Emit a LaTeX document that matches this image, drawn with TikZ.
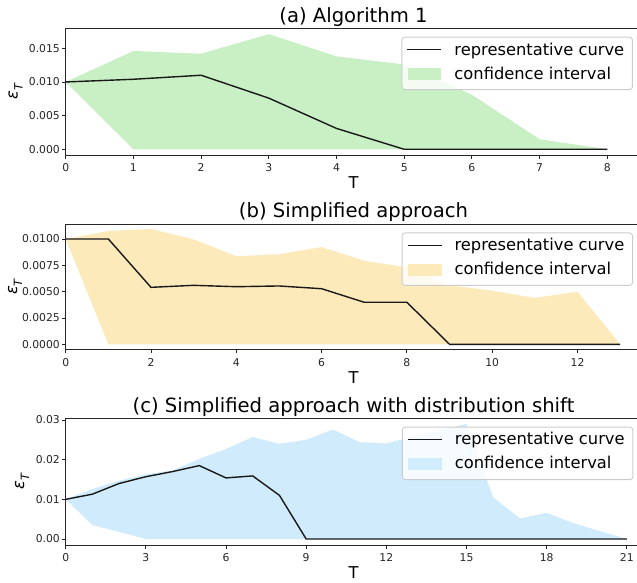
\documentclass[tikz,border=0pt]{standalone}
\usepackage{fontspec}
\setmainfont{DejaVu Sans}

\definecolor{bandA}{RGB}{201,239,196}
\definecolor{bandB}{RGB}{253,234,187}
\definecolor{bandC}{RGB}{207,235,252}

\tikzset{
  spine/.style={line width=1pt, black!85},
  tickmark/.style={line width=0.9pt, black!85},
  ticklab/.style={font=\fontsize{10.8}{12}\selectfont, text=black!85, inner sep=0pt},
  curve/.style={line width=1.4pt, black!90},
  ptitle/.style={font=\fontsize{19.6}{22}\selectfont, inner sep=0pt},
  axlab/.style={font=\fontsize{16.3}{18}\selectfont, inner sep=0pt},
  legbox/.style={draw=black!20, line width=0.9pt, fill=white, fill opacity=0.8,
    rounded corners=3pt, minimum width=230.5pt, minimum height=52.5pt, inner sep=0pt},
  legtext/.style={font=\fontsize{16.3}{18}\selectfont, inner sep=0pt, anchor=base west},
}

\newcommand{\epsT}{{\itshape ε}\raisebox{-0.3em}{\fontsize{11.4}{12}\selectfont\itshape T}}

\begin{document}
\begin{tikzpicture}
\useasboundingbox (0,0) rectangle (637pt,582pt);

% (a) Algorithm 1
\begin{scope}[shift={(65.7pt,432.7pt)}, x=67.7pt, y=6.733pt]
\coordinate (a-sw) at (0,-0.847);
\coordinate (a-ne) at (8.44,17.97);
\coordinate (a-top) at (4.251,17.97);
\coordinate (a-bot) at (4.251,-0.847);
\coordinate (a-mid) at (0,8.56);
\fill[bandA] plot coordinates {(0,10) (1,14.6) (2,14.2) (3,17.1) (4,13.8) (5,12.6) (6,8.1) (7,1.5) (8,0)} -- (1,0) -- cycle;
\draw[curve] plot coordinates {(0,10) (1,10.4) (2,11.0) (3,7.6) (4,3.1) (5,0) (8,0)};
\draw[spine] (a-ne) -| (a-sw) -- (a-sw -| a-ne);
\foreach \t in {0,...,8} {
  \draw[tickmark] (\t,-0.847) -- ++(0,-3.5pt);
  \node[ticklab, anchor=north] at ([yshift=-8.3pt]\t,-0.847) {\t};
}
\foreach \v/\lab in {0/0.000,5/0.005,10/0.010,15/0.015} {
  \draw[tickmark] (0,\v) -- ++(-3.5pt,0);
  \node[ticklab, anchor=east] at ([xshift=-5.7pt]0,\v) {\lab};
}
\end{scope}
\node[ptitle, anchor=base] (a-title) at ([yshift=6.2pt]a-top) {(a) Algorithm 1};
\node[axlab, anchor=base] (a-xlab) at ([yshift=-33.3pt]a-bot) {T};
\node[axlab, rotate=90] (a-ylab) at ([xshift=-50.2pt]a-mid) {\epsT};
\node[legbox, anchor=north east] (a-leg) at ([xshift=-4.2pt,yshift=-8.4pt]a-ne) {};
\draw[curve] ([xshift=6pt,yshift=-13pt]a-leg.north west) -- ++(34pt,0);
\node[legtext] (a-l1) at ([xshift=52.8pt,yshift=-18.3pt]a-leg.north west) {representative curve};
\fill[bandA] ([xshift=6.3pt,yshift=-31.3pt]a-leg.north west) rectangle ++(33.7pt,-12pt);
\node[legtext] (a-l2) at ([xshift=52.8pt,yshift=-42.3pt]a-leg.north west) {confidence interval};

% (b) Simplified approach
\begin{scope}[shift={(65.7pt,237.7pt)}, x=42.65pt, y=10.53pt]
\coordinate (b-sw) at (0,-0.541);
\coordinate (b-ne) at (13.4,11.42);
\coordinate (b-top) at (6.748,11.42);
\coordinate (b-bot) at (6.748,-0.541);
\coordinate (b-mid) at (0,5.44);
\fill[bandB] plot coordinates {(0,10) (1,10.76) (2,10.95) (3,9.97) (4,8.36) (5,8.55) (6,9.24) (7,7.94) (8,7.3) (9,5.6) (10,5.1) (11,4.4) (12,5.0) (13,0)} -- (1,0) -- cycle;
\draw[curve] plot coordinates {(0,10) (1,10) (2,5.41) (3,5.6) (4,5.47) (5,5.54) (6,5.28) (7,3.99) (8,3.99) (9,0) (13,0)};
\draw[spine] (b-ne) -| (b-sw) -- (b-sw -| b-ne);
\foreach \t in {0,2,...,12} {
  \draw[tickmark] (\t,-0.541) -- ++(0,-3.5pt);
  \node[ticklab, anchor=north] at ([yshift=-8.3pt]\t,-0.541) {\t};
}
\foreach \v/\lab in {0/0.0000,2.5/0.0025,5/0.0050,7.5/0.0075,10/0.0100} {
  \draw[tickmark] (0,\v) -- ++(-3.5pt,0);
  \node[ticklab, anchor=east] at ([xshift=-5.7pt]0,\v) {\lab};
}
\end{scope}
\node[ptitle, anchor=base] (b-title) at ([yshift=6.2pt]b-top) {(b) Simplified approach};
\node[axlab, anchor=base] (b-xlab) at ([yshift=-33.3pt]b-bot) {T};
\node[axlab, rotate=90] (b-ylab) at ([xshift=-50.7pt]b-mid) {\epsT};
\node[legbox, anchor=north east] (b-leg) at ([xshift=-4.2pt,yshift=-8.4pt]b-ne) {};
\draw[curve] ([xshift=6pt,yshift=-13pt]b-leg.north west) -- ++(34pt,0);
\node[legtext] (b-l1) at ([xshift=52.8pt,yshift=-18.3pt]b-leg.north west) {representative curve};
\fill[bandB] ([xshift=6.3pt,yshift=-31.3pt]b-leg.north west) rectangle ++(33.7pt,-12pt);
\node[legtext] (b-l2) at ([xshift=52.8pt,yshift=-42.3pt]b-leg.north west) {confidence interval};

% (c) with distribution shift
\begin{scope}[shift={(65.7pt,43pt)}, x=26.72pt, y=3.967pt]
\coordinate (c-sw) at (0,-1.512);
\coordinate (c-ne) at (21.4,30.43);
\coordinate (c-top) at (10.771,30.43);
\coordinate (c-bot) at (10.771,-1.512);
\coordinate (c-mid) at (0,14.46);
\fill[bandC] plot coordinates {(0,10) (1,12.6) (2,14.7) (3,16.3) (4,17.3) (5,20.2) (6,22.7) (7,25.7) (8,24.0) (9,25.0) (10,27.6) (11,24.4) (12,24.1) (13,25.8) (14,27.4) (15,29.0) (16,10.5) (17,5.2) (18,6.6) (19,4.0) (20,2.0) (21,0)} -- (3,0) -- (2,1.8) -- (1,3.5) -- cycle;
\draw[curve] plot coordinates {(0,10) (1,11.3) (2,14.0) (3,15.7) (4,17.0) (5,18.5) (6,15.4) (7,15.9) (8,11.0) (9,0) (21,0)};
\draw[spine] (c-ne) -| (c-sw) -- (c-sw -| c-ne);
\foreach \t in {0,3,...,21} {
  \draw[tickmark] (\t,-1.512) -- ++(0,-3.5pt);
  \node[ticklab, anchor=north] at ([yshift=-8.3pt]\t,-1.512) {\t};
}
\foreach \v/\lab in {0/0.00,10/0.01,20/0.02,30/0.03} {
  \draw[tickmark] (0,\v) -- ++(-3.5pt,0);
  \node[ticklab, anchor=east] at ([xshift=-5.7pt]0,\v) {\lab};
}
\end{scope}
\node[ptitle, anchor=base] (c-title) at ([yshift=6.2pt]c-top) {(c) Simplified approach with distribution shift};
\node[axlab, anchor=base] (c-xlab) at ([yshift=-33.3pt]c-bot) {T};
\node[axlab, rotate=90] (c-ylab) at ([xshift=-43.7pt]c-mid) {\epsT};
\node[legbox, anchor=north east] (c-leg) at ([xshift=-4.2pt,yshift=-8.4pt]c-ne) {};
\draw[curve] ([xshift=6pt,yshift=-13pt]c-leg.north west) -- ++(34pt,0);
\node[legtext] (c-l1) at ([xshift=52.8pt,yshift=-18.3pt]c-leg.north west) {representative curve};
\fill[bandC] ([xshift=6.3pt,yshift=-31.3pt]c-leg.north west) rectangle ++(33.7pt,-12pt);
\node[legtext] (c-l2) at ([xshift=52.8pt,yshift=-42.3pt]c-leg.north west) {confidence interval};
\end{tikzpicture}
\end{document}
